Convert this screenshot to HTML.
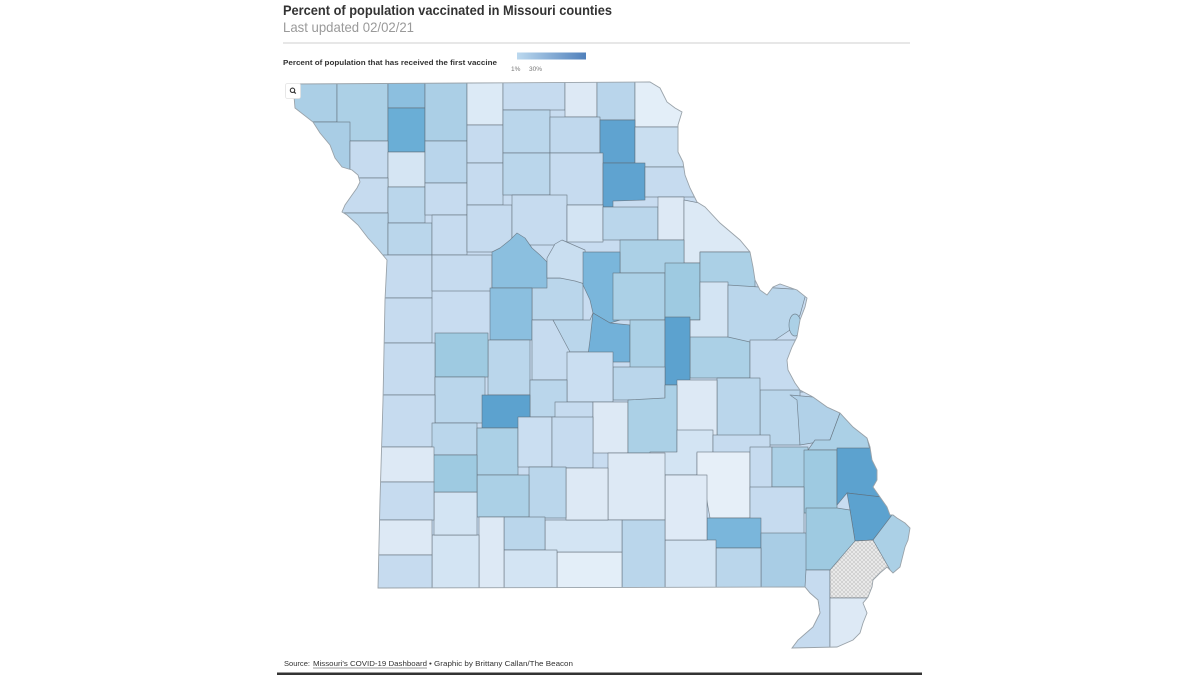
<!DOCTYPE html>
<html><head><meta charset="utf-8"><style>
html,body{margin:0;padding:0;background:#fff;}
svg{display:block;}
.c{stroke:#5f6b75;stroke-width:0.7;stroke-opacity:0.75;stroke-linejoin:round;}
</style></head><body>
<svg width="1200" height="675" viewBox="0 0 1200 675" xmlns="http://www.w3.org/2000/svg">
<defs>
<clipPath id="mo"><path id="mop" d="M293,84 L470,83 L650,82 L660,88 L667,102 L675,108 L682,112 L678,125 L678,152 L683,162 L685,175 L690,188 L697,202 L705,207 L720,223 L740,240 L750,252 L753,267 L755,280 L760,290 L767,295 L773,287 L780,284 L797,290 L807,298 L805,307 L800,320 L797,337 L792,347 L787,360 L788,370 L795,383 L800,390 L813,397 L827,407 L840,413 L853,427 L867,438 L870,447 L872,460 L877,470 L877,480 L873,487 L880,497 L887,507 L890,515 L893,515 L897,518 L905,523 L910,528 L908,540 L905,547 L903,555 L900,567 L893,573 L887,567 L880,573 L873,580 L872,587 L868,597 L863,603 L867,613 L863,623 L860,633 L853,640 L837,647 L792,648 L798,640 L813,627 L820,613 L818,600 L810,593 L805,587 L378,588 L380,500 L383,400 L385,300 L387,260 L377,248 L368,238 L358,225 L347,215 L342,212 L345,205 L352,195 L357,188 L360,182 L358,175 L352,170 L342,167 L335,158 L330,145 L320,133 L313,122 L295,108 Z"/></clipPath>
<pattern id="hatch" width="4" height="4" patternUnits="userSpaceOnUse">
<rect width="4" height="4" fill="#ececec"/>
<path d="M0,0 L4,4 M4,0 L0,4" stroke="#c4c4c4" stroke-width="0.6"/>
</pattern>
<linearGradient id="lg" x1="0" x2="1" y1="0" y2="0">
<stop offset="0" stop-color="#bcd9ef"/><stop offset="1" stop-color="#5080bb"/>
</linearGradient>
</defs>

<!-- Title -->
<text x="283" y="15" font-family="Liberation Sans, sans-serif" font-weight="bold" font-size="14" fill="#333" textLength="329" lengthAdjust="spacingAndGlyphs">Percent of population vaccinated in Missouri counties</text>
<text x="283" y="32" font-family="Liberation Sans, sans-serif" font-size="14" fill="#9a9a9a" textLength="131" lengthAdjust="spacingAndGlyphs">Last updated 02/02/21</text>
<line x1="283" y1="43" x2="910" y2="43" stroke="#cfcfcf" stroke-width="1"/>

<!-- Legend -->
<text x="283" y="65" font-family="Liberation Sans, sans-serif" font-weight="bold" font-size="7.5" fill="#333" textLength="214" lengthAdjust="spacingAndGlyphs">Percent of population that has received the first vaccine</text>
<rect x="517" y="52.5" width="69" height="7" fill="url(#lg)"/>
<text x="511" y="71" font-family="Liberation Sans, sans-serif" font-size="6.5" fill="#777">1%</text>
<text x="529" y="71" font-family="Liberation Sans, sans-serif" font-size="6.5" fill="#777">30%</text>

<!-- Map -->
<g clip-path="url(#mo)">
<rect x="280" y="75" width="640" height="580" fill="#c8dcf0"/>
<g class="c">
<!-- north -->
<rect x="285" y="80" width="52" height="42" fill="#abcfe6"/>
<rect x="337" y="80" width="51" height="61" fill="#acd0e6"/>
<rect x="388" y="80" width="37" height="28" fill="#8cbfdf"/>
<rect x="388" y="108" width="37" height="44" fill="#6aaed6"/>
<rect x="425" y="80" width="42" height="61" fill="#abcfe6"/>
<rect x="467" y="80" width="36" height="45" fill="#dceaf6"/>
<rect x="503" y="80" width="62" height="30" fill="#c6dbef"/>
<rect x="565" y="80" width="32" height="37" fill="#dde9f5"/>
<rect x="597" y="80" width="38" height="40" fill="#b9d5eb"/>
<rect x="635" y="80" width="65" height="47" fill="#e3eef8"/>
<rect x="285" y="122" width="65" height="53" fill="#a9cde5"/>
<rect x="350" y="141" width="38" height="37" fill="#c6dbef"/>
<rect x="388" y="152" width="37" height="35" fill="#d5e5f3"/>
<rect x="425" y="141" width="42" height="42" fill="#b9d5eb"/>
<rect x="467" y="125" width="36" height="38" fill="#c6dbef"/>
<rect x="503" y="110" width="47" height="43" fill="#bad6eb"/>
<rect x="550" y="117" width="50" height="36" fill="#c0d8ed"/>
<rect x="600" y="120" width="35" height="43" fill="#5fa3d0"/>
<rect x="635" y="127" width="65" height="40" fill="#c9def0"/>
<rect x="330" y="178" width="58" height="35" fill="#c6dbef"/>
<rect x="388" y="187" width="37" height="36" fill="#bad6eb"/>
<rect x="425" y="183" width="42" height="32" fill="#c6dbef"/>
<rect x="467" y="163" width="36" height="42" fill="#c6dbef"/>
<rect x="503" y="153" width="47" height="42" fill="#bad6eb"/>
<rect x="550" y="153" width="53" height="52" fill="#c6dbef"/>
<polygon points="603,163 645,163 645,200 613,201 613,207 603,207" fill="#5fa3d0"/>
<rect x="645" y="167" width="55" height="30" fill="#c6dbef"/>
<rect x="330" y="213" width="58" height="45" fill="#bad6eb"/>
<rect x="388" y="223" width="44" height="32" fill="#bad6eb"/>
<rect x="432" y="215" width="35" height="40" fill="#c6dbef"/>
<rect x="467" y="205" width="45" height="47" fill="#c6dbef"/>
<rect x="512" y="195" width="55" height="50" fill="#c6dbef"/>
<rect x="567" y="205" width="36" height="37" fill="#d3e4f3"/>
<rect x="603" y="207" width="55" height="33" fill="#bad6eb"/>
<rect x="658" y="197" width="26" height="43" fill="#dde9f5"/>
<polygon points="684,200 720,207 765,240 765,252 700,252 700,263 684,263" fill="#dce9f5"/>
<!-- middle -->
<rect x="380" y="255" width="52" height="43" fill="#c6dbef"/>
<rect x="432" y="255" width="60" height="36" fill="#c6dbef"/>
<rect x="532" y="278" width="51" height="42" fill="#bad6eb"/>
<polygon points="492,252 500,248 510,240 517,233 525,238 532,248 540,255 547,262 547,288 492,288" fill="#8bbfdf"/>
<polygon points="547,258 555,244 562,240 585,250 588,285 575,281 560,278 547,278" fill="#c9def0"/>
<rect x="620" y="240" width="64" height="33" fill="#abd0e6"/>
<polygon points="583,252 620,252 620,320 610,323 593,313 590,300 583,285" fill="#7ab6db"/>
<rect x="490" y="288" width="42" height="52" fill="#8bbfdf"/>
<polygon points="532,320 553,320 570,350 570,380 532,380" fill="#c6dbef"/>
<polygon points="553,320 590,320 593,313 593,352 570,352" fill="#bad6eb"/>
<polygon points="593,313 610,323 630,325 630,362 587,362 590,340" fill="#72b1d9"/>
<rect x="613" y="273" width="52" height="47" fill="#abd0e6"/>
<rect x="630" y="320" width="35" height="48" fill="#abd0e6"/>
<rect x="665" y="263" width="35" height="57" fill="#9ecae1"/>
<rect x="700" y="252" width="55" height="45" fill="#abd0e6"/>
<rect x="690" y="320" width="60" height="58" fill="#abd0e6"/>
<polygon points="700,282 728,282 728,337 690,337 690,320 700,320" fill="#d3e4f3"/>
<polygon points="728,285 807,290 800,315 790,330 775,340 750,342 728,337" fill="#bad6eb"/>
<rect x="750" y="340" width="55" height="52" fill="#c6dbef"/>
<ellipse cx="795" cy="325" rx="6" ry="11" fill="#abd0e6"/>
<rect x="665" y="317" width="25" height="68" fill="#5ca2cf"/>
<rect x="760" y="390" width="40" height="55" fill="#bad6eb"/>
<polygon points="790,395 813,397 827,407 840,413 830,440 800,445 797,400" fill="#b1d1e8"/>
<polygon points="840,413 853,427 867,438 870,450 808,450 815,440 830,440" fill="#abd0e6"/>
<rect x="717" y="378" width="43" height="59" fill="#bad6eb"/>
<rect x="677" y="380" width="40" height="60" fill="#dde9f5"/>
<rect x="613" y="367" width="52" height="33" fill="#bad6eb"/>
<rect x="567" y="352" width="46" height="50" fill="#cadef1"/>
<rect x="488" y="340" width="42" height="55" fill="#bad6eb"/>
<rect x="435" y="333" width="53" height="44" fill="#9ecae1"/>
<rect x="380" y="298" width="52" height="45" fill="#c6dbef"/>
<rect x="380" y="343" width="55" height="52" fill="#c6dbef"/>
<rect x="435" y="377" width="50" height="46" fill="#bad6eb"/>
<rect x="530" y="380" width="37" height="37" fill="#bad6eb"/>
<rect x="555" y="402" width="38" height="18" fill="#c6dbef"/>
<rect x="593" y="402" width="35" height="51" fill="#dde9f5"/>
<polygon points="628,400 665,398 665,385 677,385 677,453 628,453" fill="#abd0e6"/>
<rect x="380" y="395" width="55" height="52" fill="#c6dbef"/>
<rect x="432" y="423" width="45" height="32" fill="#bad6eb"/>
<rect x="482" y="395" width="48" height="33" fill="#5ca2cf"/>
<rect x="477" y="428" width="41" height="47" fill="#abd0e6"/>
<rect x="518" y="417" width="34" height="50" fill="#cadef1"/>
<rect x="552" y="417" width="41" height="51" fill="#c6dbef"/>
<polygon points="677,430 713,430 713,453 697,453 697,475 650,475 650,452 677,452" fill="#d3e4f3"/>
<rect x="713" y="435" width="57" height="18" fill="#c6dbef"/>
<polygon points="697,452 750,452 750,518 710,518 705,490 697,480" fill="#e6eff8"/>
<rect x="750" y="447" width="22" height="43" fill="#c6dbef"/>
<rect x="772" y="447" width="36" height="40" fill="#abd0e6"/>
<rect x="804" y="450" width="33" height="63" fill="#9ecae1"/>
<polygon points="837,448 880,448 880,497 847,493 837,505" fill="#5ca2cf"/>
<polygon points="847,493 882,497 893,515 873,540 855,541 850,510" fill="#5ca2cf"/>
<rect x="750" y="487" width="54" height="48" fill="#c6dbef"/>
<rect x="707" y="518" width="54" height="30" fill="#7ab6db"/>
<rect x="761" y="533" width="47" height="55" fill="#a9cde5"/>
<polygon points="806,508 837,508 850,510 855,541 855,570 830,570 806,570" fill="#9ecae1"/>
<rect x="716" y="548" width="45" height="40" fill="#bad6eb"/>
<polygon points="806,570 830,570 830,648 792,648 798,640 813,627 820,613 818,600 810,593 805,587" fill="#c6dbef"/>
<polygon points="855,541 873,540 893,573 880,590 868,598 830,598 830,570" fill="url(#hatch)"/>
<polygon points="830,598 868,598 880,640 837,652 830,652" fill="#dde9f5"/>
<polygon points="873,540 892,515 915,520 915,580 893,575" fill="#abd0e6"/>
<rect x="665" y="540" width="51" height="48" fill="#d3e4f3"/>
<rect x="665" y="475" width="42" height="65" fill="#dfeaf6"/>
<rect x="608" y="453" width="57" height="67" fill="#dde9f5"/>
<rect x="622" y="520" width="43" height="68" fill="#bad6eb"/>
<rect x="557" y="552" width="65" height="36" fill="#e3eef8"/>
<rect x="545" y="520" width="77" height="32" fill="#d3e4f3"/>
<rect x="566" y="468" width="42" height="52" fill="#dde9f5"/>
<rect x="529" y="467" width="37" height="51" fill="#bad6eb"/>
<rect x="477" y="475" width="52" height="42" fill="#abd0e6"/>
<rect x="504" y="517" width="41" height="33" fill="#bad6eb"/>
<rect x="504" y="550" width="53" height="38" fill="#d3e4f3"/>
<rect x="479" y="517" width="25" height="71" fill="#dde9f5"/>
<rect x="432" y="535" width="47" height="53" fill="#d3e4f3"/>
<rect x="434" y="492" width="43" height="43" fill="#d3e4f3"/>
<rect x="432" y="455" width="45" height="37" fill="#9ecae1"/>
<rect x="378" y="447" width="56" height="35" fill="#dde9f5"/>
<rect x="378" y="482" width="56" height="38" fill="#c6dbef"/>
<rect x="378" y="520" width="54" height="35" fill="#dde9f5"/>
<rect x="378" y="555" width="54" height="33" fill="#c6dbef"/>
</g>
</g>
<use href="#mop" fill="none" stroke="#9aa3aa" stroke-width="0.9"/>

<!-- zoom button -->
<rect x="285.5" y="83.5" width="15" height="15" rx="2" fill="#fff" stroke="#e2e2e2" stroke-width="0.8"/>
<circle cx="292.5" cy="90.3" r="2.2" fill="none" stroke="#333" stroke-width="1.1"/>
<line x1="294.1" y1="91.9" x2="295.8" y2="93.6" stroke="#333" stroke-width="1.2"/>

<!-- Footer -->
<g font-family="Liberation Sans, sans-serif" font-size="7.5" fill="#333">
<text x="284" y="666" textLength="26" lengthAdjust="spacingAndGlyphs">Source:</text>
<text x="313" y="666" textLength="114" lengthAdjust="spacingAndGlyphs">Missouri's COVID-19 Dashboard</text>
<text x="429" y="666" textLength="144" lengthAdjust="spacingAndGlyphs">• Graphic by Brittany Callan/The Beacon</text>
</g>
<line x1="313" y1="668" x2="427" y2="668" stroke="#333" stroke-width="0.6"/>
<rect x="277" y="672.5" width="645" height="2.5" fill="#333"/>
</svg>
</body></html>
